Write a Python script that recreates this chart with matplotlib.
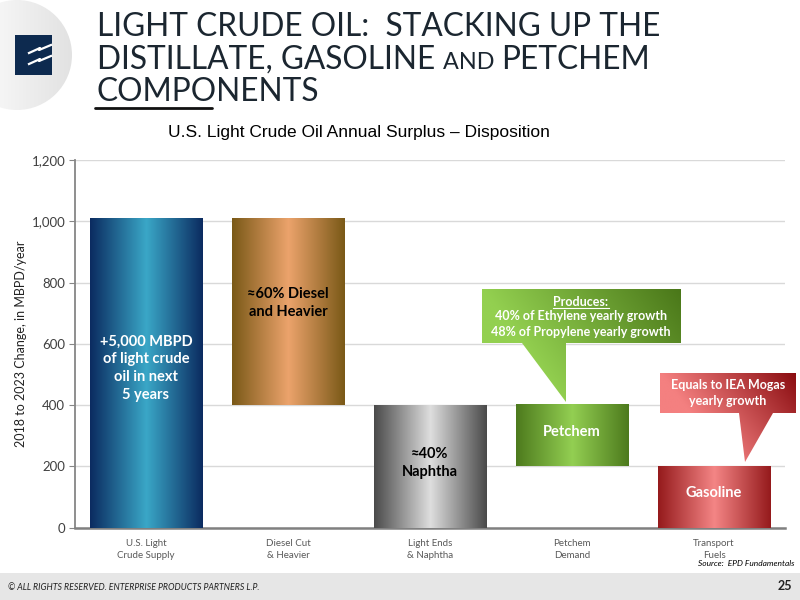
import matplotlib
matplotlib.use("Agg")
import matplotlib.pyplot as plt
import matplotlib.transforms as mtrans
import numpy as np
from matplotlib.colors import LinearSegmentedColormap
from matplotlib.patches import Polygon, Rectangle, Circle
from matplotlib.ticker import FuncFormatter

# data
categories = ['U.S. Light\nCrude Supply', 'Diesel Cut\n& Heavier', 'Light Ends\n& Naphtha',
              'Petchem\nDemand', 'Transport\nFuels']
bar_bottom = [0, 400, 0, 200, 0]
bar_height = [1010, 610, 400, 200, 200]
bar_text = ['+5,000 MBPD\nof light crude\noil in next\n5 years', '\u224860% Diesel\nand Heavier',
            '\u224840%\nNaphtha', 'Petchem', 'Gasoline']
y_ticks = [0, 200, 400, 600, 800, 1000, 1200]

# styles
bar_colors = [('#0b2b60', '#3aa7c7'), ('#7a5917', '#eca36c'), ('#4a4a4a', '#dedede'),
              ('#4d7a1d', '#93cf52'), ('#951a1c', '#f48585')]
text_colors = ['white', 'black', 'black', 'white', 'white']
text_frac = [0.515, 0.545, 0.53, 0.56, 0.57]

FONT = 'Lato'

fig = plt.figure(figsize=(8, 6), dpi=100)
ax = fig.add_axes([75 / 800, 72.3 / 600, 710 / 800, 367.7 / 600])

x = np.arange(len(categories))
width = 0.79
for i in x:
    cmap = LinearSegmentedColormap.from_list('g', [bar_colors[i][0], bar_colors[i][1], bar_colors[i][0]])
    grad = np.linspace(0, 1, 256)[None, :]
    ax.imshow(grad, cmap=cmap, aspect='auto', zorder=3,
              extent=(i - width / 2, i + width / 2, bar_bottom[i], bar_bottom[i] + bar_height[i]))
    ax.text(i, bar_bottom[i] + bar_height[i] * text_frac[i], bar_text[i], ha='center', va='center',
            color=text_colors[i], fontsize=10.5, fontweight='bold', family=FONT,
            linespacing=1.35, zorder=5)

ax.set_xlim(-0.5, len(categories) - 0.5)
ax.set_ylim(0, 1200)
ax.set_yticks(y_ticks)
ax.yaxis.set_major_formatter(FuncFormatter(lambda v, p: f'{int(v):,}'))
ax.set_xticks(x)
ax.set_xticklabels(categories, fontsize=7, color='#595959', family=FONT, linespacing=1.5)
ax.tick_params(axis='x', length=0, pad=8)
ax.tick_params(axis='y', length=4, color='#868686', labelsize=9.5, labelcolor='#404040', pad=3)
for lab in ax.get_yticklabels():
    lab.set_family(FONT)
ax.grid(axis='y', color='#d9d9d9', lw=1, zorder=0)
ax.set_axisbelow(True)
for s in ['top', 'right']:
    ax.spines[s].set_visible(False)
ax.spines['left'].set_color('#868686')
ax.spines['left'].set_linewidth(1.3)
ax.spines['bottom'].set_color('#808080')
ax.spines['bottom'].set_linewidth(1.8)
ax.set_ylabel('2018 to 2023 Change, in MBPD/year', fontsize=9, family=FONT, color='#222222', labelpad=3)

# overlay in pixel coordinates for slide decorations
ov = fig.add_axes([0, 0, 1, 1], zorder=10)
ov.set_xlim(0, 800)
ov.set_ylim(600, 0)
ov.axis('off')


def grad_fill(pts, light, dark, wk, patch=None):
    pts = np.array(pts, float)
    x0, y0 = pts[:, 0].min(), pts[:, 1].min()
    x1, y1 = pts[:, 0].max(), pts[:, 1].max()
    gx, gy = np.meshgrid(np.linspace(0, 1, 200), np.linspace(0, 1, 200))
    t = np.clip(gx - wk * gy, 0, 1)
    cmap = LinearSegmentedColormap.from_list('c', [light, dark])
    im = ov.imshow(t, cmap=cmap, extent=(x0, x1, y1, y0), origin='upper', aspect='auto', zorder=2)
    if patch is None:
        patch = Polygon(pts, closed=True, facecolor='none', edgecolor='none')
    ov.add_patch(patch)
    im.set_clip_path(patch)


grad_fill([(482, 289), (681, 289), (681, 343), (566, 343), (566, 402), (522, 343), (482, 343)],
          '#93d050', '#4a7719', 0.4)
ov.text(581, 302, 'Produces:', ha='center', va='center', color='white', fontsize=9,
        fontweight='bold', family=FONT, zorder=4)
ov.plot([553, 609], [308, 308], color='white', lw=0.8, zorder=4)
ov.text(581, 324, '40% of Ethylene yearly growth\n48% of Propylene yearly growth', ha='center',
        va='center', color='white', fontsize=9, fontweight='bold', family=FONT, linespacing=1.45, zorder=4)

grad_fill([(660, 373), (796, 373), (796, 413), (773, 413), (745, 462), (739, 413), (660, 413)],
          '#f48080', '#8a0c10', 0.5)
ov.text(728, 393, 'Equals to IEA Mogas\nyearly growth', ha='center', va='center', color='white',
        fontsize=9, fontweight='bold', family=FONT, linespacing=1.4, zorder=4)

ov.text(359, 133, 'U.S. Light Crude Oil Annual Surplus \u2013 Disposition', ha='center', va='center',
        fontsize=12.5, family='Liberation Sans', color='black')

# logo
grad_fill([(-38, 0), (72, 0), (72, 110), (-38, 110)], '#ffffff', '#e2e2e2', 0.0,
          patch=Circle((17, 55), 55, facecolor='none', edgecolor='none'))
ov.add_patch(Rectangle((15, 35), 37, 40, facecolor='#0d2a4f', edgecolor='none', zorder=3))
ov.plot([29, 40, 39, 51], [53, 48, 50, 45], color='white', lw=1.6, zorder=4)
ov.plot([29, 40, 39, 51], [64, 59, 61, 56], color='white', lw=1.6, zorder=4)

# slide title
tcol = '#1b2630'
TS = 22.8
ov.text(97, 36, 'LIGHT CRUDE OIL:  STACKING UP THE', fontsize=TS, family=FONT, color=tcol, va='baseline')
fig.canvas.draw()
r = fig.canvas.get_renderer()
blend = mtrans.blended_transform_factory(mtrans.IdentityTransform(), ov.transData)
t1 = ov.text(97, 69, 'DISTILLATE, GASOLINE ', fontsize=TS, family=FONT, color=tcol, va='baseline')
t2 = ov.text(t1.get_window_extent(r).x1, 69, 'AND ', fontsize=TS * 0.74, family=FONT, color=tcol,
             va='baseline', transform=blend)
ov.text(t2.get_window_extent(r).x1, 69, 'PETCHEM', fontsize=TS, family=FONT, color=tcol,
        va='baseline', transform=blend)
ov.text(97, 101, 'COMPONENTS', fontsize=TS, family=FONT, color=tcol, va='baseline')
ov.plot([95, 212], [108, 108], color='#111111', lw=2, solid_capstyle='round')

# source and footer
ov.text(795, 564, 'Source:  EPD Fundamentals', ha='right', va='center', fontsize=6, style='italic',
        family=FONT, color='black')
ov.add_patch(Rectangle((0, 573), 800, 27, facecolor='#e6e6e6', edgecolor='none', zorder=1))
ov.text(8, 587, '\u00a9 ALL RIGHTS RESERVED. ENTERPRISE PRODUCTS PARTNERS L.P.', va='center',
        fontsize=6.3, style='italic', family=FONT, color='#222222', zorder=2)
ov.text(792, 586, '25', ha='right', va='center', fontsize=9, fontweight='bold', family=FONT,
        color='#222222', zorder=2)

fig.savefig('out.png', dpi=100)
